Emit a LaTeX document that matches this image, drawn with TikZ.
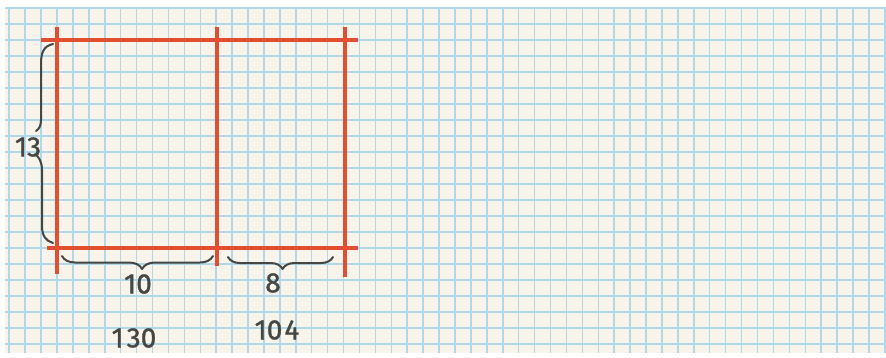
\documentclass[tikz,border=0pt]{standalone}
\usepackage{fontspec}
\setmainfont{Fira Sans}
\newfontfamily\handfont{Fira Sans}[FakeBold=1.2]
\usetikzlibrary{decorations.pathreplacing}
\definecolor{paper}{RGB}{248,244,236}
\definecolor{gridblue}{RGB}{176,216,230}
\definecolor{redline}{RGB}{225,78,48}
\definecolor{pencil}{RGB}{70,70,68}
\tikzset{
  gridline/.style={draw=gridblue, line width=1.5pt},
  redstroke/.style={draw=redline, line width=4.6pt},
  bracestroke/.style={draw=pencil, line width=2pt, line cap=round, line join=round},
  handlabel/.style={text=pencil, font=\handfont\fontsize{28}{30}\selectfont, inner sep=0pt},
}
\begin{document}
\begin{tikzpicture}[x=1pt,y=-1pt]
\useasboundingbox (0,0) rectangle (886,357);
\fill[white] (0,0) rectangle (886,357);
\fill[paper] (5,8) rectangle (886,353);
% grid
\foreach \i in {-3,...,52} {
  \draw[gridline] ({57+15.92*\i},8) -- ({57+15.92*\i},353);
}
\foreach \j in {-2,...,19} {
  \draw[gridline] (5,{40+16*\j}) -- (886,{40+16*\j});
}
% red construction lines
\coordinate (topL) at (41,40);
\coordinate (topR) at (358,40);
\coordinate (botL) at (47,248);
\coordinate (botR) at (358,248);
\coordinate (lT) at (57,27);
\coordinate (lB) at (57,274);
\coordinate (mT) at (217,27);
\coordinate (mB) at (217,266);
\coordinate (rT) at (345,27);
\coordinate (rB) at (345,277);
\draw[redstroke] (topL) -- (topR);
\draw[redstroke] (botL) -- (botR);
\draw[redstroke] (lT) -- (lB);
\draw[redstroke] (mT) -- (mB);
\draw[redstroke] (rT) -- (rB);
% left brace (split around label)
\coordinate (lbTop) at (53,44);
\coordinate (lbMidA) at (36,131);
\coordinate (lbMidB) at (35,154);
\coordinate (lbBot) at (53,243);
\draw[bracestroke] (lbTop) .. controls (44,46) and (41,52) .. (41,64) -- (41,120) .. controls (41,126) and (39,129) .. (lbMidA);
\draw[bracestroke] (lbMidB) .. controls (39,157) and (42,162) .. (42,170) -- (42,226) .. controls (42,236) and (46,241) .. (lbBot);
% bottom braces
\coordinate (b1s) at (62,256);
\coordinate (b1e) at (213,256);
\coordinate (b2s) at (228,257);
\coordinate (b2e) at (333,257);
\draw[bracestroke, decorate, decoration={brace, mirror, amplitude=13pt, aspect=0.53}] (b1s) -- (b1e);
\draw[bracestroke, decorate, decoration={brace, mirror, amplitude=12pt, aspect=0.52}] (b2s) -- (b2e);
% labels
\node[handlabel] (n13) at (28,147) {13};
\node[handlabel] (n10) at (138,284) {10};
\node[handlabel] (n8) at (273,283) {8};
\node[handlabel] (n130) at (134,338) {1\kern3pt30};
\node[handlabel] (n104) at (277,330) {10\kern2pt4};
\end{tikzpicture}
\end{document}
